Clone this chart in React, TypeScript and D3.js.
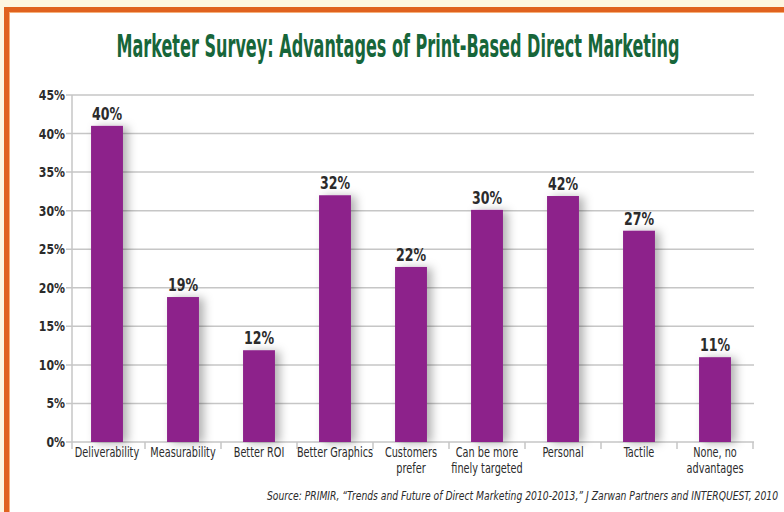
import React, { useEffect, useRef } from 'react';
import * as d3 from 'd3';

const categories: string[][] = [
  ['Deliverability'],
  ['Measurability'],
  ['Better ROI'],
  ['Better Graphics'],
  ['Customers', 'prefer'],
  ['Can be more', 'finely targeted'],
  ['Personal'],
  ['Tactile'],
  ['None, no', 'advantages'],
];
// bar heights as drawn in the picture (percent)
const values = [41, 18.8, 11.9, 32, 22.7, 30.1, 31.9, 27.4, 11];
// printed labels above the bars
const valueLabels = ['40%', '19%', '12%', '32%', '22%', '30%', '42%', '27%', '11%'];
const yTicks = [0, 5, 10, 15, 20, 25, 30, 35, 40, 45];

const title = 'Marketer Survey: Advantages of Print-Based Direct Marketing';
const source =
  'Source: PRIMIR, \u201cTrends and Future of Direct Marketing 2010-2013,\u201d J Zarwan Partners and INTERQUEST, 2010';

const FONT = '"Liberation Sans Narrow", "DejaVu Sans Condensed", "Roboto Condensed", Arial, sans-serif';

// squeeze a text horizontally so it spans `target` px, anchored at x
function fitWidth(
  sel: d3.Selection<SVGTextElement, unknown, null, undefined>,
  target: number,
  ax: number,
  ay: number
) {
  const len = sel.node()?.getComputedTextLength() || target;
  const k = target / len;
  sel.attr('transform', `translate(${ax},${ay}) scale(${k},1)`).attr('x', 0).attr('y', 0);
}

const App: React.FC = () => {
  const svgRef = useRef<SVGSVGElement | null>(null);

  useEffect(() => {
    if (!svgRef.current) return;
    const width = 784;
    const height = 512;
    const svg = d3.select(svgRef.current);
    svg.selectAll('*').remove();

    const margin = { left: 72, right: 30, top: 95, bottom: 70 };

    const x = d3
      .scaleBand<number>()
      .domain(d3.range(categories.length))
      .range([69, 753])
      .paddingInner(0.58)
      .paddingOuter(0.29);

    const y = d3.scaleLinear().domain([0, 45]).range([height - margin.bottom, margin.top]);

    const defs = svg.append('defs');
    const shadow = defs
      .append('filter')
      .attr('id', 'barShadow')
      .attr('x', '-50%')
      .attr('y', '-20%')
      .attr('width', '200%')
      .attr('height', '140%');
    shadow
      .append('feDropShadow')
      .attr('dx', 5)
      .attr('dy', 1)
      .attr('stdDeviation', 5)
      .attr('flood-color', '#000')
      .attr('flood-opacity', 0.3);

    // background + frame
    svg.append('rect').attr('width', width).attr('height', height).attr('fill', '#fdf6e1');
    svg
      .append('rect')
      .attr('x', 4)
      .attr('y', 7)
      .attr('width', width + 20)
      .attr('height', height + 20)
      .attr('fill', '#e0621f');
    svg
      .append('rect')
      .attr('x', 9)
      .attr('y', 12)
      .attr('width', width + 20)
      .attr('height', height + 20)
      .attr('fill', '#f6b07a');
    svg
      .append('rect')
      .attr('x', 10)
      .attr('y', 13)
      .attr('width', width + 20)
      .attr('height', height + 20)
      .attr('fill', '#ffffff');

    const titleText = svg
      .append('text')
      .attr('text-anchor', 'middle')
      .attr('font-family', FONT)
      .attr('font-weight', 'bold')
      .attr('font-size', 32)
      .attr('fill', '#17663a')
      .text(title);
    fitWidth(titleText, 563, 398, 57);

    // gridlines
    svg
      .append('g')
      .selectAll('line')
      .data(yTicks)
      .join('line')
      .attr('x1', 66)
      .attr('x2', 754)
      .attr('y1', (d) => y(d))
      .attr('y2', (d) => y(d))
      .attr('stroke', '#c6c6c6')
      .attr('stroke-width', 1.5);

    // y axis line
    svg
      .append('line')
      .attr('x1', 72)
      .attr('x2', 72)
      .attr('y1', y(45))
      .attr('y2', y(0) + 7)
      .attr('stroke', '#c6c6c6')
      .attr('stroke-width', 1.5);

    // category separators
    const step = x.step();
    svg
      .append('g')
      .selectAll('line')
      .data(d3.range(1, categories.length + 1))
      .join('line')
      .attr('x1', (i) => (x(i - 1) ?? 0) + x.bandwidth() / 2 + step / 2)
      .attr('x2', (i) => (x(i - 1) ?? 0) + x.bandwidth() / 2 + step / 2)
      .attr('y1', y(0))
      .attr('y2', y(0) + 7)
      .attr('stroke', '#c6c6c6')
      .attr('stroke-width', 1.5);

    // y labels
    svg
      .append('g')
      .selectAll('text')
      .data(yTicks)
      .join('text')
      .attr('text-anchor', 'end')
      .attr('font-family', FONT)
      .attr('font-weight', 'bold')
      .attr('font-size', 14.5)
      .attr('fill', '#2b2b2b')
      .attr('transform', (d) => `translate(65,${y(d) + 5}) scale(0.84,1)`)
      .text((d) => `${d}%`);

    // bars
    svg
      .append('g')
      .selectAll('rect')
      .data(values)
      .join('rect')
      .attr('x', (_, i) => x(i) ?? 0)
      .attr('y', (d) => y(d))
      .attr('width', x.bandwidth())
      .attr('height', (d) => y(0) - y(d))
      .attr('fill', '#8d248b')
      .attr('filter', 'url(#barShadow)');

    // value labels
    svg
      .append('g')
      .selectAll('text')
      .data(values)
      .join('text')
      .attr('text-anchor', 'middle')
      .attr('font-family', FONT)
      .attr('font-weight', 'bold')
      .attr('font-size', 17.5)
      .attr('fill', '#2b2b2b')
      .attr('transform', (d, i) => `translate(${(x(i) ?? 0) + x.bandwidth() / 2},${y(d) - 6}) scale(0.8,1)`)
      .text((_, i) => valueLabels[i]);

    // category labels
    const cat = svg
      .append('g')
      .selectAll('text')
      .data(categories)
      .join('text')
      .attr('font-family', FONT)
      .attr('font-size', 13.5)
      .attr('fill', '#2b2b2b')
      .attr('text-anchor', 'middle')
      .attr('transform', (_, i) => {
        const cx = (x(i) ?? 0) + x.bandwidth() / 2;
        return `translate(${cx},${y(0) + 15}) scale(0.8,1)`;
      });
    cat
      .selectAll('tspan')
      .data((d) => d)
      .join('tspan')
      .attr('x', 0)
      .attr('y', (_, j) => j * 16)
      .text((d) => d);

    const sourceText = svg
      .append('text')
      .attr('text-anchor', 'end')
      .attr('font-family', FONT)
      .attr('font-style', 'italic')
      .attr('font-size', 13)
      .attr('fill', '#2b2b2b')
      .text(source);
    fitWidth(sourceText, 512, 778, 500);
  }, []);

  return (
    <div style={{ position: 'fixed', left: 0, top: 0 }}>
      <svg ref={svgRef} width={784} height={512} style={{ display: 'block' }} />
    </div>
  );
};

export default App;
